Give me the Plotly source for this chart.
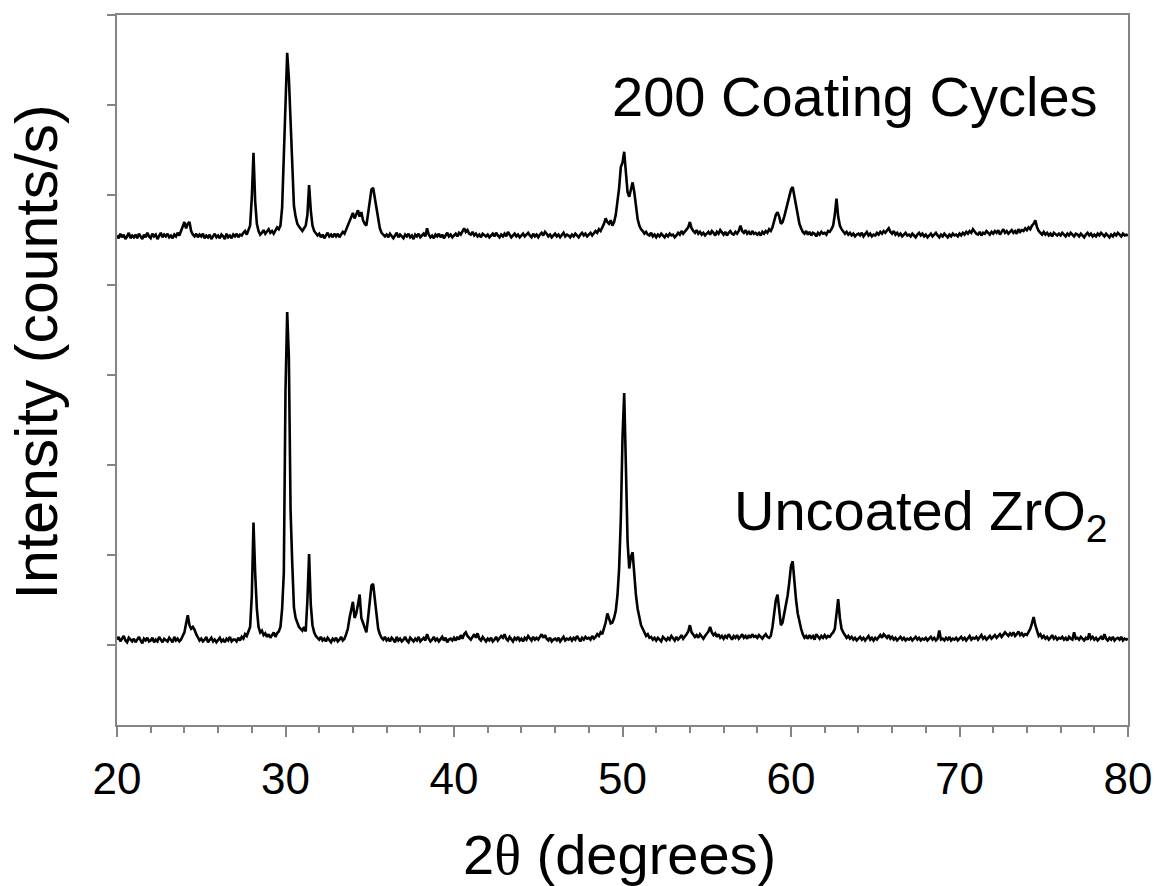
import plotly.graph_objects as go

# 2-theta scan grid: 20.0 .. 80.0 deg, 0.1 deg step
two_theta = [round(20 + 0.1 * i, 1) for i in range(601)]

# Uncoated ZrO2 intensity (counts/s), one row per degree
uncoated = [
    6, 9, 4, 7, 10, 5, 3, 8, 6, 4,        # 20
    7, 3, 6, 9, 5, 2, 7, 5, 8, 4,         # 21
    5, 8, 3, 6, 4, 9, 6, 3, 7, 5,         # 22
    4, 8, 6, 3, 9, 5, 7, 4, 6, 10,        # 23
    14, 24, 33, 22, 18, 20, 17, 12, 8, 5,  # 24
    7, 4, 6, 9, 3, 5, 8, 4, 6, 3,         # 25
    5, 8, 4, 6, 3, 7, 5, 9, 4, 6,         # 26
    6, 4, 8, 5, 9, 7, 12, 10, 15, 20,     # 27
    55, 136, 80, 40, 20, 14, 16, 11, 13, 9,  # 28
    12, 8, 11, 14, 9, 13, 15, 20, 40, 80,    # 29
    283, 370, 320, 150, 91, 42, 30, 25, 20, 18,  # 30
    16, 20, 15, 50, 101, 45, 22, 14, 10, 8,  # 31
    6, 9, 5, 7, 4, 8, 6, 3, 7, 5,         # 32
    8, 4, 6, 9, 5, 7, 12, 18, 30, 40,     # 33
    48, 30, 35, 45, 56, 30, 25, 18, 14, 30,  # 34
    50, 66, 68, 50, 30, 18, 12, 8, 6, 9,  # 35
    5, 7, 4, 8, 6, 3, 9, 5, 7, 4,         # 36
    6, 9, 5, 3, 8, 6, 4, 7, 5, 9,         # 37
    4, 6, 8, 5, 12, 7, 4, 6, 9, 5,        # 38
    7, 4, 6, 9, 5, 8, 3, 6, 7, 5,         # 39
    8, 5, 9, 6, 11, 7, 12, 14, 10, 8,     # 40
    6, 9, 12, 8, 13, 7, 5, 9, 6, 4,       # 41
    7, 5, 8, 4, 6, 9, 5, 7, 10, 8,        # 42
    12, 7, 5, 9, 6, 4, 8, 6, 9, 5,        # 43
    7, 4, 8, 6, 10, 7, 5, 9, 6, 8,        # 44
    6, 9, 12, 8, 11, 7, 5, 8, 4, 6,       # 45
    7, 5, 8, 4, 6, 9, 5, 7, 6, 8,         # 46
    5, 8, 6, 10, 7, 4, 8, 6, 9, 7,        # 47
    8, 6, 10, 7, 9, 12, 10, 14, 12, 18,   # 48
    25, 35, 28, 24, 25, 30, 38, 55, 85, 140,  # 49
    230, 280, 200, 115, 85, 98, 103, 75, 55, 40,  # 50
    30, 22, 18, 14, 10, 12, 8, 9, 6, 8,   # 51
    5, 8, 6, 4, 9, 7, 5, 8, 6, 10,        # 52
    7, 5, 9, 6, 8, 11, 7, 9, 12, 15,      # 53
    22, 14, 12, 9, 11, 8, 12, 9, 7, 10,   # 54
    12, 15, 20, 14, 11, 13, 9, 12, 8, 10,  # 55
    7, 10, 8, 12, 9, 6, 10, 8, 11, 7,     # 56
    9, 12, 8, 10, 7, 11, 8, 12, 9, 10,    # 57
    8, 11, 9, 7, 10, 12, 9, 8, 10, 20,    # 58
    35, 50, 56, 35, 22, 25, 35, 45, 55, 70,  # 59
    88, 93, 70, 50, 35, 25, 18, 12, 8, 10,   # 60
    7, 11, 8, 10, 6, 12, 9, 7, 10, 8,     # 61
    11, 8, 10, 9, 12, 14, 18, 32, 51, 30,  # 62
    18, 14, 11, 8, 10, 7, 9, 6, 8, 5,     # 63
    7, 9, 6, 8, 5, 7, 10, 6, 8, 5,        # 64
    8, 6, 9, 11, 8, 12, 10, 8, 11, 7,     # 65
    9, 6, 8, 5, 7, 9, 6, 8, 5, 7,         # 66
    6, 8, 5, 7, 9, 6, 8, 5, 7, 6,         # 67
    8, 5, 7, 9, 6, 8, 5, 7, 16, 6,        # 68
    7, 5, 8, 6, 9, 5, 7, 6, 8, 5,         # 69
    7, 9, 6, 8, 5, 7, 10, 6, 8, 7,        # 70
    9, 6, 8, 11, 7, 9, 6, 8, 10, 7,       # 71
    9, 11, 8, 10, 12, 9, 11, 14, 12, 10,  # 72
    13, 11, 14, 10, 12, 15, 11, 13, 10, 12,  # 73
    11, 14, 18, 24, 31, 22, 15, 10, 12, 8,   # 74
    10, 7, 9, 6, 8, 11, 7, 9, 6, 8,       # 75
    7, 9, 6, 8, 5, 9, 7, 6, 14, 7,        # 76
    8, 6, 9, 7, 5, 8, 6, 13, 7, 9,        # 77
    6, 8, 5, 7, 9, 6, 12, 7, 5, 8,        # 78
    6, 9, 5, 7, 8, 6, 9, 5, 7, 6,         # 79
    7,                                    # 80
]

# After 200 coating cycles, intensity (counts/s), one row per degree
coated_200 = [
    7, 4, 9, 5, 8, 3, 6, 10, 4, 7,        # 20
    5, 8, 4, 9, 6, 3, 8, 5, 10, 6,        # 21
    4, 9, 6, 8, 3, 7, 10, 5, 8, 6,        # 22
    9, 5, 7, 4, 8, 6, 10, 7, 12, 18,      # 23
    22, 15, 20, 22, 12, 8, 6, 9, 5, 8,    # 24
    6, 9, 4, 7, 5, 8, 3, 6, 9, 5,         # 25
    7, 4, 8, 6, 3, 9, 5, 7, 4, 8,         # 26
    6, 9, 5, 8, 7, 10, 12, 8, 14, 18,     # 27
    49, 99, 45, 20, 12, 8, 10, 13, 9, 11,  # 28
    14, 10, 12, 9, 13, 16, 14, 18, 38, 89,  # 29
    146, 210, 182, 132, 69, 40, 28, 20, 17, 14,  # 30
    12, 15, 18, 30, 63, 35, 18, 12, 9, 7,  # 31
    9, 5, 8, 4, 7, 10, 6, 8, 5, 9,        # 32
    6, 9, 5, 8, 11, 9, 14, 18, 22, 28,    # 33
    32, 26, 30, 35, 28, 33, 24, 20, 18, 30,  # 34
    45, 58, 60, 48, 35, 24, 15, 10, 8, 6,  # 35
    8, 5, 9, 6, 4, 7, 10, 5, 8, 6,        # 36
    4, 8, 6, 9, 5, 7, 3, 8, 6, 9,         # 37
    5, 7, 9, 6, 15, 8, 5, 7, 4, 8,        # 38
    6, 9, 5, 8, 4, 7, 10, 6, 8, 5,        # 39
    7, 9, 6, 10, 8, 12, 15, 11, 13, 9,    # 40
    8, 11, 7, 9, 6, 8, 5, 9, 7, 6,        # 41
    8, 5, 7, 9, 6, 10, 7, 5, 8, 6,        # 42
    9, 6, 11, 8, 5, 7, 9, 6, 8, 5,        # 43
    7, 9, 6, 8, 10, 7, 5, 9, 6, 8,        # 44
    5, 8, 10, 7, 11, 9, 6, 8, 5, 7,       # 45
    9, 6, 8, 5, 7, 10, 6, 8, 7, 5,        # 46
    8, 6, 9, 7, 5, 8, 10, 7, 9, 6,        # 47
    8, 10, 7, 9, 12, 10, 14, 12, 16, 20,  # 48
    26, 22, 20, 24, 18, 22, 30, 45, 60, 83,  # 49
    88, 100, 75, 55, 50, 58, 66, 55, 38, 25,  # 50
    18, 14, 12, 9, 11, 8, 7, 10, 6, 8,    # 51
    5, 8, 6, 9, 7, 5, 8, 6, 9, 7,         # 52
    8, 5, 7, 10, 8, 12, 9, 11, 14, 16,    # 53
    22, 15, 12, 10, 13, 9, 11, 8, 10, 7,  # 54
    9, 11, 8, 12, 10, 7, 11, 9, 13, 10,   # 55
    8, 11, 7, 10, 12, 9, 8, 11, 9, 12,    # 56
    18, 12, 10, 13, 9, 11, 8, 12, 9, 10,  # 57
    8, 10, 7, 11, 9, 12, 10, 14, 12, 16,  # 58
    22, 30, 33, 28, 20, 22, 28, 35, 42, 50,  # 59
    58, 61, 50, 38, 28, 20, 15, 11, 9, 12,   # 60
    8, 11, 7, 10, 9, 6, 10, 8, 11, 9,     # 61
    10, 8, 12, 11, 14, 18, 30, 48, 28, 18,  # 62
    14, 12, 9, 11, 8, 10, 7, 9, 6, 8,     # 63
    9, 7, 10, 6, 8, 11, 7, 9, 6, 8,       # 64
    7, 10, 8, 11, 9, 12, 10, 13, 15, 11,  # 65
    9, 12, 8, 10, 7, 9, 6, 8, 10, 7,      # 66
    8, 6, 9, 7, 5, 8, 10, 7, 9, 6,        # 67
    8, 5, 7, 9, 6, 8, 10, 7, 5, 8,        # 68
    6, 9, 7, 5, 8, 6, 9, 7, 8, 6,         # 69
    9, 7, 10, 8, 11, 9, 12, 10, 14, 11,   # 70
    9, 8, 11, 7, 10, 9, 12, 10, 8, 11,    # 71
    9, 12, 10, 13, 8, 11, 14, 10, 12, 9,  # 72
    11, 13, 10, 12, 9, 14, 11, 13, 12, 15,  # 73
    13, 16, 14, 18, 20, 24, 16, 12, 10, 8,  # 74
    11, 8, 10, 7, 9, 6, 10, 8, 7, 9,      # 75
    7, 10, 8, 6, 9, 7, 10, 8, 6, 9,       # 76
    8, 6, 9, 7, 5, 8, 10, 7, 9, 6,        # 77
    8, 6, 9, 7, 10, 8, 6, 9, 7, 5,        # 78
    8, 6, 9, 7, 10, 8, 6, 9, 7, 8,        # 79
    7,                                    # 80
]

# vertical stacking offset for the coated pattern
STACK_OFFSET = 448

FONT = "Arial, Liberation Sans, sans-serif"
AXIS_GREY = "#858585"
LINE_W = 2.6

fig = go.Figure()
fig.add_trace(go.Scatter(
    x=two_theta, y=uncoated, mode="lines",
    line=dict(color="black", width=LINE_W), name="Uncoated ZrO2",
))
fig.add_trace(go.Scatter(
    x=two_theta, y=[v + STACK_OFFSET for v in coated_200], mode="lines",
    line=dict(color="black", width=LINE_W), name="200 Coating Cycles",
))

# pattern labels
fig.add_annotation(
    x=78.35, y=609, xref="x", yref="y", text="200 Coating Cycles",
    showarrow=False, xanchor="right", yanchor="middle",
    font=dict(family=FONT, size=56, color="black"),
)
fig.add_annotation(
    x=78.95, y=145, xref="x", yref="y", text="Uncoated ZrO<sub>2</sub>",
    showarrow=False, xanchor="right", yanchor="middle",
    font=dict(family=FONT, size=56, color="black"),
)

# axis titles
fig.add_annotation(
    x=-0.079, y=0.525, xref="paper", yref="paper", text="Intensity (counts/s)",
    textangle=-90, showarrow=False, xanchor="center", yanchor="middle",
    font=dict(family=FONT, size=59, color="black"),
)
fig.add_annotation(
    x=0.4975, y=-0.183, xref="paper", yref="paper",
    text="2<span style='font-family:Liberation Serif'>θ</span> (degrees)",
    showarrow=False, xanchor="center", yanchor="middle",
    font=dict(family=FONT, size=56, color="black"),
)

fig.update_layout(
    width=1155, height=886,
    margin=dict(l=117, r=27, t=15, b=161),
    paper_bgcolor="white", plot_bgcolor="white",
    showlegend=False,
    font=dict(family=FONT, color="black"),
    xaxis=dict(
        range=[20, 80], tickmode="linear", tick0=20, dtick=10,
        ticks="outside", ticklen=10, tickwidth=2, tickcolor=AXIS_GREY,
        minor=dict(dtick=2, ticks="outside", ticklen=6, tickwidth=2, tickcolor=AXIS_GREY),
        showline=True, linecolor=AXIS_GREY, linewidth=2, mirror=True,
        showgrid=False, zeroline=False, automargin=False,
        ticklabelstandoff=4,
        tickfont=dict(family=FONT, size=44, color="black"),
    ),
    yaxis=dict(
        range=[-88.9, 700], tickmode="linear", tick0=0, dtick=100,
        ticks="outside", ticklen=8, tickwidth=2, tickcolor=AXIS_GREY,
        showticklabels=False,
        showline=True, linecolor=AXIS_GREY, linewidth=2, mirror=True,
        showgrid=False, zeroline=False, automargin=False,
    ),
)

fig.write_html("out.html")
